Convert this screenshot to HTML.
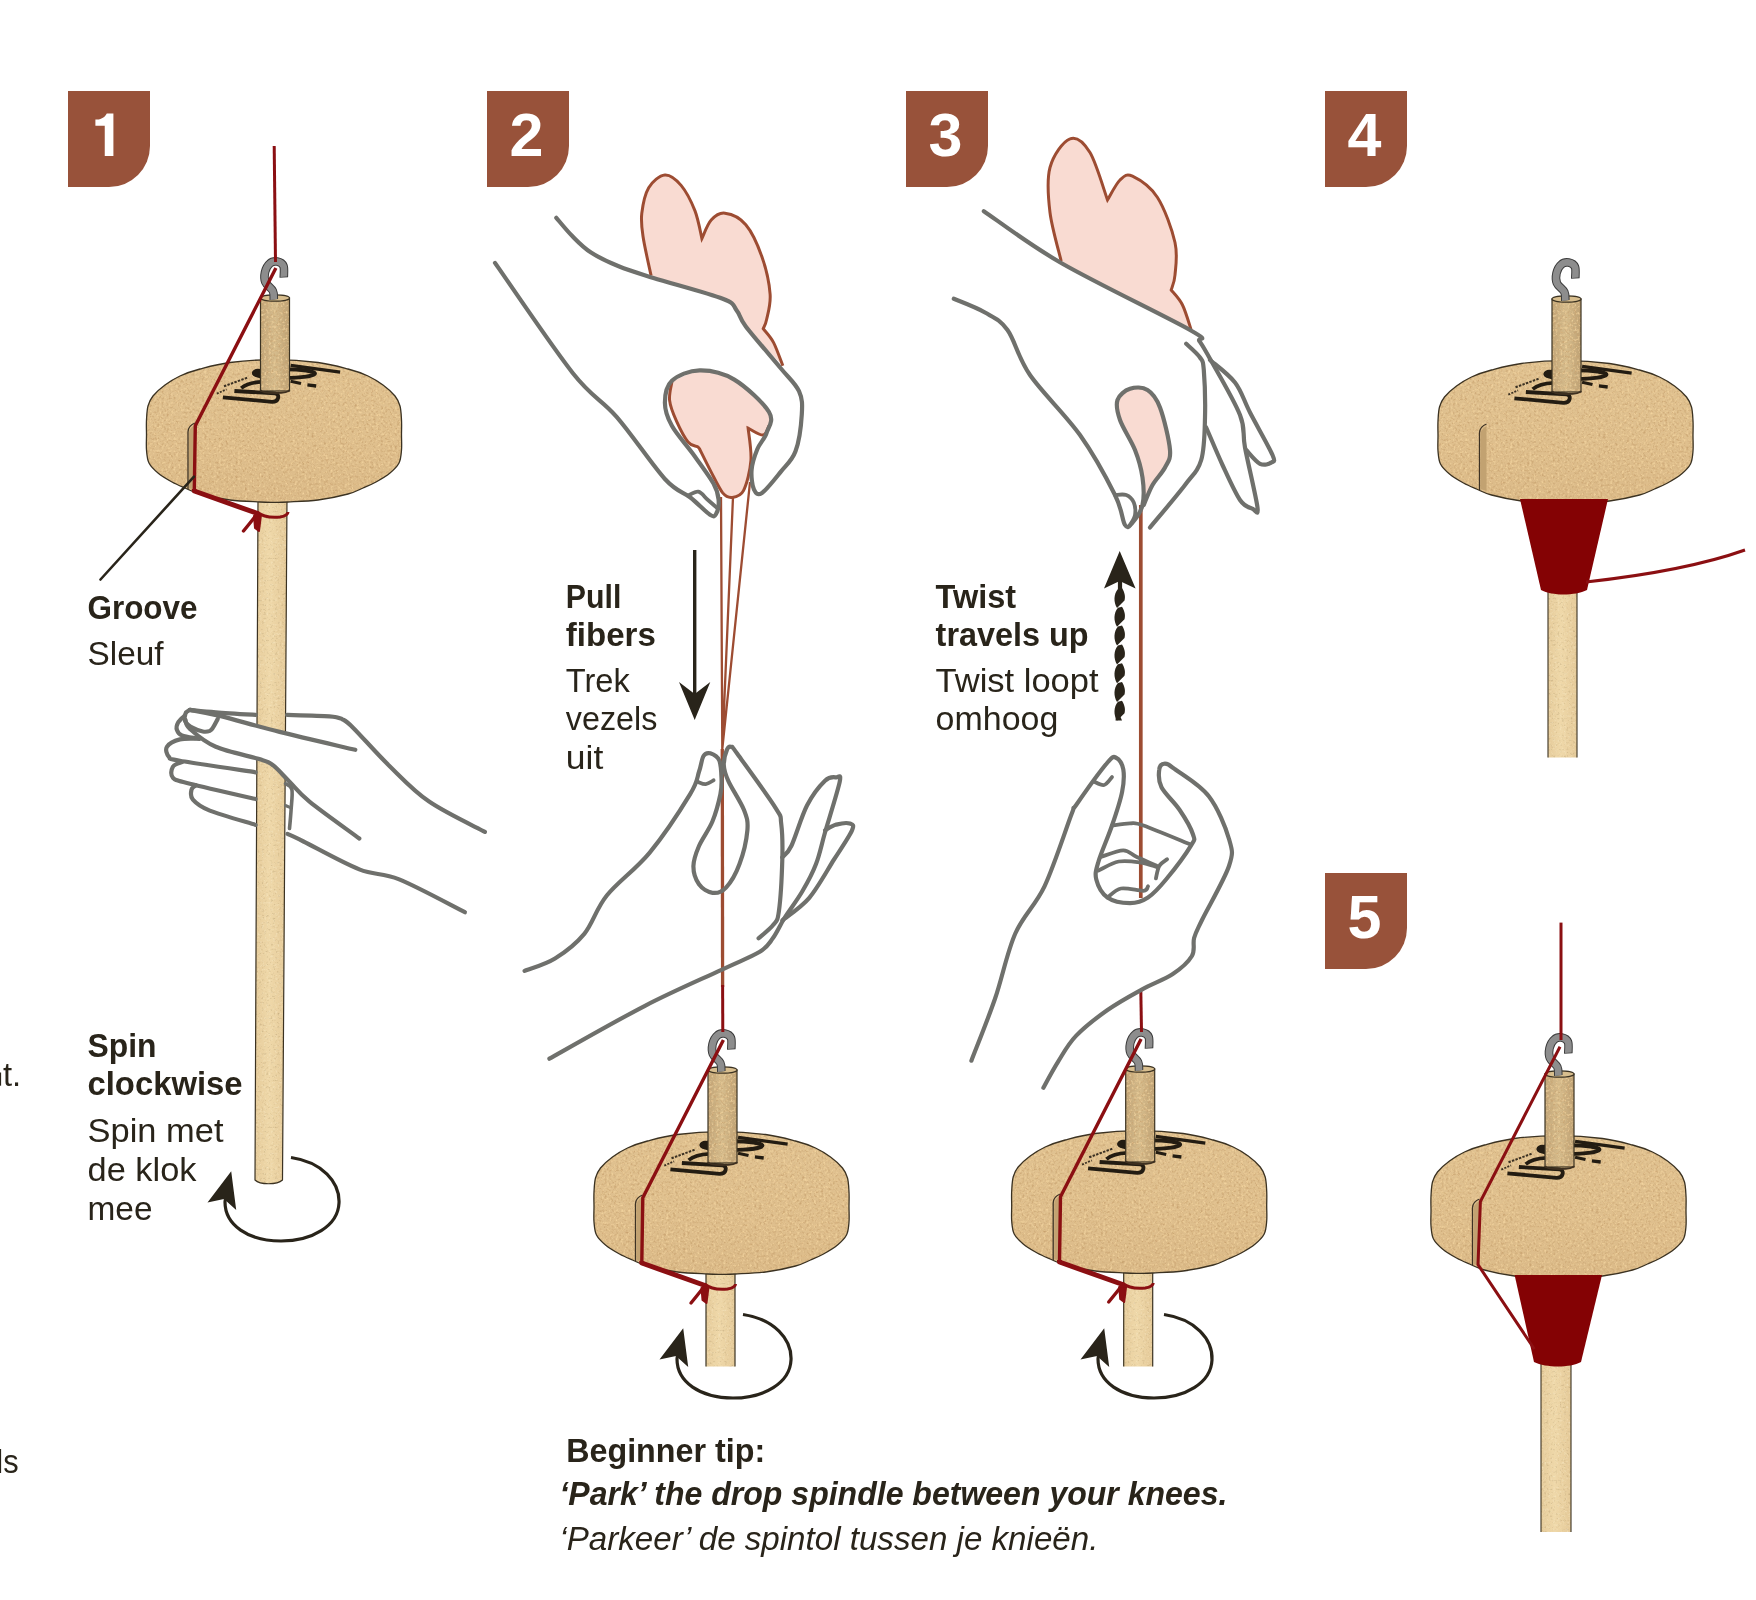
<!DOCTYPE html>
<html><head><meta charset="utf-8"><style>
html,body{margin:0;padding:0;background:#fff;}
svg{display:block;will-change:transform;}
</style></head><body>
<svg width="1756" height="1600" viewBox="0 0 1756 1600">
<rect width="1756" height="1600" fill="#fff"/>

<defs>
 <linearGradient id="gdisc" x1="0" y1="0" x2="0" y2="1">
   <stop offset="0" stop-color="#e0c291"/><stop offset="0.6" stop-color="#dfbf8d"/><stop offset="1" stop-color="#dbba88"/>
 </linearGradient>
 <linearGradient id="gshaft" x1="0" y1="0" x2="1" y2="0">
   <stop offset="0" stop-color="#e6cc9b"/><stop offset="0.45" stop-color="#efd8a9"/><stop offset="1" stop-color="#e5ca99"/>
 </linearGradient>
 <linearGradient id="gtop" x1="0" y1="0" x2="1" y2="0">
   <stop offset="0" stop-color="#c2a679"/><stop offset="0.5" stop-color="#d6bc8c"/><stop offset="1" stop-color="#bea174"/>
 </linearGradient>
 <filter id="cork" x="0" y="0" width="1" height="1" color-interpolation-filters="sRGB">
   <feTurbulence type="fractalNoise" baseFrequency="0.42" numOctaves="2" seed="7" result="n0"/>
   <feGaussianBlur in="n0" stdDeviation="0.45" result="n"/>
   <feColorMatrix in="n" type="matrix" values="0 0 0 0 0.78  0 0 0 0 0.63  0 0 0 0 0.43  2.4 0 0 0 -1.18" result="dark"/>
   <feColorMatrix in="n" type="matrix" values="0 0 0 0 0.96  0 0 0 0 0.84  0 0 0 0 0.63  0 -2.4 0 0 1.18" result="light"/>
   <feComposite in="dark" in2="SourceAlpha" operator="in" result="d2"/>
   <feComposite in="light" in2="SourceAlpha" operator="in" result="l2"/>
   <feMerge><feMergeNode in="SourceGraphic"/><feMergeNode in="d2"/><feMergeNode in="l2"/></feMerge>
 </filter>
 <filter id="cork2" x="0" y="0" width="1" height="1" color-interpolation-filters="sRGB">
   <feTurbulence type="fractalNoise" baseFrequency="0.45" numOctaves="2" seed="11" result="n"/>
   <feColorMatrix in="n" type="matrix" values="0 0 0 0 0.55  0 0 0 0 0.46  0 0 0 0 0.3  0.9 0 0 0 -0.52" result="dark"/>
   <feColorMatrix in="n" type="matrix" values="0 0 0 0 0.98  0 0 0 0 0.93  0 0 0 0 0.8  0 -1.4 0 0 0.66" result="light"/>
   <feComposite in="dark" in2="SourceAlpha" operator="in" result="d2"/>
   <feComposite in="light" in2="SourceAlpha" operator="in" result="l2"/>
   <feMerge><feMergeNode in="SourceGraphic"/><feMergeNode in="d2"/><feMergeNode in="l2"/></feMerge>
 </filter>
 <g id="spin">
   <path d="M274.0,359.7 C259.3,359.7 242.3,360.9 230.0,362.5 C217.7,364.1 208.3,366.8 200.0,369.0 C191.7,371.2 185.8,373.3 180.0,376.0 C174.2,378.7 169.5,381.7 165.0,385.0 C160.5,388.3 155.8,392.5 153.0,396.0 C150.2,399.5 149.1,402.0 148.0,406.0 C146.9,410.0 146.8,415.2 146.5,420.0 C146.2,424.8 146.5,430.0 146.5,435.0 C146.5,440.0 146.1,445.3 146.5,450.0 C146.9,454.7 147.1,459.2 149.0,463.0 C150.9,466.8 154.2,469.8 158.0,473.0 C161.8,476.2 167.5,479.5 172.0,482.0 C176.5,484.5 180.3,486.0 185.0,488.0 C189.7,490.0 192.5,492.0 200.0,494.0 C207.5,496.0 220.0,498.7 230.0,500.0 C240.0,501.3 252.7,501.6 260.0,502.0 C267.3,502.4 269.3,502.3 274.0,502.3 C278.7,502.3 280.7,502.4 288.0,502.0 C295.3,501.6 308.0,501.3 318.0,500.0 C328.0,498.7 340.5,496.0 348.0,494.0 C355.5,492.0 358.3,490.0 363.0,488.0 C367.7,486.0 371.5,484.5 376.0,482.0 C380.5,479.5 386.2,476.2 390.0,473.0 C393.8,469.8 397.1,466.8 399.0,463.0 C400.9,459.2 401.1,454.7 401.5,450.0 C401.9,445.3 401.5,440.0 401.5,435.0 C401.5,430.0 401.8,424.8 401.5,420.0 C401.2,415.2 401.1,410.0 400.0,406.0 C398.9,402.0 397.8,399.5 395.0,396.0 C392.2,392.5 387.5,388.3 383.0,385.0 C378.5,381.7 373.8,378.7 368.0,376.0 C362.2,373.3 356.3,371.2 348.0,369.0 C339.7,366.8 330.3,364.1 318.0,362.5 C305.7,360.9 288.7,359.7 274.0,359.7 Z" fill="url(#gdisc)" filter="url(#cork)"/>
   <path d="M274.0,359.7 C259.3,359.7 242.3,360.9 230.0,362.5 C217.7,364.1 208.3,366.8 200.0,369.0 C191.7,371.2 185.8,373.3 180.0,376.0 C174.2,378.7 169.5,381.7 165.0,385.0 C160.5,388.3 155.8,392.5 153.0,396.0 C150.2,399.5 149.1,402.0 148.0,406.0 C146.9,410.0 146.8,415.2 146.5,420.0 C146.2,424.8 146.5,430.0 146.5,435.0 C146.5,440.0 146.1,445.3 146.5,450.0 C146.9,454.7 147.1,459.2 149.0,463.0 C150.9,466.8 154.2,469.8 158.0,473.0 C161.8,476.2 167.5,479.5 172.0,482.0 C176.5,484.5 180.3,486.0 185.0,488.0 C189.7,490.0 192.5,492.0 200.0,494.0 C207.5,496.0 220.0,498.7 230.0,500.0 C240.0,501.3 252.7,501.6 260.0,502.0 C267.3,502.4 269.3,502.3 274.0,502.3 C278.7,502.3 280.7,502.4 288.0,502.0 C295.3,501.6 308.0,501.3 318.0,500.0 C328.0,498.7 340.5,496.0 348.0,494.0 C355.5,492.0 358.3,490.0 363.0,488.0 C367.7,486.0 371.5,484.5 376.0,482.0 C380.5,479.5 386.2,476.2 390.0,473.0 C393.8,469.8 397.1,466.8 399.0,463.0 C400.9,459.2 401.1,454.7 401.5,450.0 C401.9,445.3 401.5,440.0 401.5,435.0 C401.5,430.0 401.8,424.8 401.5,420.0 C401.2,415.2 401.1,410.0 400.0,406.0 C398.9,402.0 397.8,399.5 395.0,396.0 C392.2,392.5 387.5,388.3 383.0,385.0 C378.5,381.7 373.8,378.7 368.0,376.0 C362.2,373.3 356.3,371.2 348.0,369.0 C339.7,366.8 330.3,364.1 318.0,362.5 C305.7,360.9 288.7,359.7 274.0,359.7 Z" fill="none" stroke="#3b3222" stroke-width="1.3"/>
   <!-- logo -->
   <g fill="none" stroke="#231c12" stroke-linecap="butt">
     <path d="M290.6,365.4 L340.1,372.2" stroke-width="3.3"/>
     <ellipse cx="284.5" cy="373.6" rx="30.5" ry="4.3" stroke-width="3.9"/>
     <ellipse cx="258" cy="372.8" rx="6" ry="4" fill="#231c12" stroke="none"/>
     <path d="M290.6,381.3 L301,383.5" stroke-width="3.2"/>
     <path d="M307.4,384.8 L316.2,386" stroke-width="3.3"/>
     <path d="M234.4,391 L275,393.3 C280,393.8 279.5,401.8 272,401.8 L222.9,397.3" stroke-width="3.8"/>
     <path d="M241.2,388.2 C245,385 252,382.3 262,381.9" stroke-width="3.7"/>
     <path d="M224,386.3 L247.5,377.6" stroke="#3a3022" stroke-width="2" stroke-dasharray="2.4 1.3"/>
     <path d="M216.8,393.6 L226.5,389.4" stroke="#3a3022" stroke-width="1.8" stroke-dasharray="2 1.3"/>
   </g>
   <!-- top shaft -->
   <rect x="260.5" y="298" width="29" height="93" fill="url(#gtop)" filter="url(#cork)"/>
   <rect x="260.5" y="298" width="29" height="93" fill="none" stroke="#3b3222" stroke-width="1.2"/>
   <ellipse cx="275" cy="298" rx="14.5" ry="3.2" fill="#d8be8e" stroke="#3b3222" stroke-width="1.2"/>
   <path d="M260.5,390 C262,394 288,394 289.5,390" fill="none" stroke="#3e3020" stroke-width="2"/>
   <!-- hook -->
   <path d="M273.8,299.5 C273.6,298.1 274.3,293.9 272.9,291.0 C271.5,288.1 266.7,285.4 265.4,282.2 C264.1,279.1 264.3,275.4 265.0,272.2 C265.7,269.1 267.7,265.3 269.8,263.5 C271.8,261.7 275.0,261.2 277.2,261.6 C279.5,262.0 282.4,263.4 283.5,266.0 C284.6,268.6 283.7,275.6 283.8,277.5" fill="none" stroke="#3c3c3c" stroke-width="8.6" stroke-linecap="butt"/>
   <path d="M273.8,299.5 C273.6,298.1 274.3,293.9 272.9,291.0 C271.5,288.1 266.7,285.4 265.4,282.2 C264.1,279.1 264.3,275.4 265.0,272.2 C265.7,269.1 267.7,265.3 269.8,263.5 C271.8,261.7 275.0,261.2 277.2,261.6 C279.5,262.0 282.4,263.5 283.5,266.0 C284.6,268.5 283.7,275.0 283.8,276.8" fill="none" stroke="#8d8d8d" stroke-width="6.6" stroke-linecap="butt"/>
   <!-- groove slot -->
   <path d="M188,489 L188,432 C188,428 190,425 195,423" fill="none" stroke="#3d3224" stroke-width="1.3"/>
   <path d="M189,488 L189,433 C189,430 191,427 195,425 L195,490 Z" fill="#c2a271"/>
 </g>
</defs>

<path d="M68,91 L150,91 L150,146 A41,41 0 0 1 109,187 L68,187 Z" fill="#98523a"/>
<path d="M106.8,113.4 L113.4,113.4 L113.4,156.1 L104.75,156.1 L104.75,125.75 L95.4,125.75 L95.4,119.6 C100,119.6 104.5,118 106.8,113.4 Z" fill="#fff"/>
<path d="M487,91 L569,91 L569,146 A41,41 0 0 1 528,187 L487,187 Z" fill="#98523a"/>
<text x="526.5" y="156.1" text-anchor="middle" font-family="Liberation Sans" font-weight="bold" font-size="61" fill="#fff">2</text>
<path d="M906,91 L988,91 L988,146 A41,41 0 0 1 947,187 L906,187 Z" fill="#98523a"/>
<text x="945.5" y="156.1" text-anchor="middle" font-family="Liberation Sans" font-weight="bold" font-size="61" fill="#fff">3</text>
<path d="M1325,91 L1407,91 L1407,146 A41,41 0 0 1 1366,187 L1325,187 Z" fill="#98523a"/>
<text x="1364.5" y="156.1" text-anchor="middle" font-family="Liberation Sans" font-weight="bold" font-size="61" fill="#fff">4</text>
<path d="M1325,873 L1407,873 L1407,928 A41,41 0 0 1 1366,969 L1325,969 Z" fill="#98523a"/>
<text x="1364.5" y="938.1" text-anchor="middle" font-family="Liberation Sans" font-weight="bold" font-size="61" fill="#fff">5</text>
<path d="M258,498 L287,498 L282.5,1180 C277,1185 260,1185 255,1180 Z" fill="url(#gshaft)" filter="url(#cork2)"/>
<path d="M258,498 L287,498 L282.5,1180 C277,1185 260,1185 255,1180 Z" fill="none" stroke="#3b3222" stroke-width="1.2"/>
<use href="#spin"/>
<g transform="translate(0,0)">
<path d="M275.9,268 L195.3,425.8 L194.3,491" fill="none" stroke="#8b0f12" stroke-width="3.4" stroke-linejoin="round"/>
<path d="M194.3,489 L194.3,491 L257.5,513.5" fill="none" stroke="#8b0f12" stroke-width="5" stroke-linejoin="round"/>
<path d="M257,512 C262,516 270,518 280,517 C286,516 288,514 288,512" fill="none" stroke="#8b0f12" stroke-width="3"/>
<path d="M258,513 L250,523 L243.5,531" fill="none" stroke="#8b0f12" stroke-width="3.4" stroke-linecap="round"/>
<path d="M254,516 L261,515 L259,531 L255,528 Z" fill="#8b0f12" stroke="#8b0f12" stroke-width="2" stroke-linejoin="round"/>
</g>
<path d="M274.2,146 L275.5,262" stroke="#8b0f12" stroke-width="3" fill="none"/>
<path d="M194,476.6 L100.5,579.5" stroke="#29241a" stroke-width="2.6" fill="none" stroke-linecap="round"/>
<g transform="translate(0,0)"><path d="M291,1157.5 C322,1162 340,1182 339,1203 C338,1226 312,1241 281,1241 C248,1241 225,1225 225,1202 C225,1198 226,1195 227,1192" fill="none" stroke="#29241a" stroke-width="3.2"/><path d="M231.2,1171.2 L207.5,1202.5 L224,1199 L236.2,1210 Z" fill="#29241a"/></g>
<g transform="translate(447.5,772)"><path d="M258.5,498 L287.5,498 L287.5,594.5 L258.5,594.5 Z" fill="url(#gshaft)" filter="url(#cork2)"/><path d="M258.5,498 L258.5,594.5 M287.5,498 L287.5,594.5" stroke="#3b3222" stroke-width="1.2"/></g>
<use href="#spin" transform="translate(447.5,772)"/>
<g transform="translate(447.5,772)">
<path d="M275.9,268 L195.3,425.8 L194.3,491" fill="none" stroke="#8b0f12" stroke-width="3.4" stroke-linejoin="round"/>
<path d="M194.3,489 L194.3,491 L257.5,513.5" fill="none" stroke="#8b0f12" stroke-width="5" stroke-linejoin="round"/>
<path d="M257,512 C262,516 270,518 280,517 C286,516 288,514 288,512" fill="none" stroke="#8b0f12" stroke-width="3"/>
<path d="M258,513 L250,523 L243.5,531" fill="none" stroke="#8b0f12" stroke-width="3.4" stroke-linecap="round"/>
<path d="M254,516 L261,515 L259,531 L255,528 Z" fill="#8b0f12" stroke="#8b0f12" stroke-width="2" stroke-linejoin="round"/>
</g>
<g transform="translate(452,157)"><path d="M291,1157.5 C322,1162 340,1182 339,1203 C338,1226 312,1241 281,1241 C248,1241 225,1225 225,1202 C225,1198 226,1195 227,1192" fill="none" stroke="#29241a" stroke-width="3.2"/><path d="M231.2,1171.2 L207.5,1202.5 L224,1199 L236.2,1210 Z" fill="#29241a"/></g>
<g transform="translate(865.2,771)"><path d="M258.5,498 L287.5,498 L287.5,595.5 L258.5,595.5 Z" fill="url(#gshaft)" filter="url(#cork2)"/><path d="M258.5,498 L258.5,595.5 M287.5,498 L287.5,595.5" stroke="#3b3222" stroke-width="1.2"/></g>
<use href="#spin" transform="translate(865.2,771)"/>
<g transform="translate(865.2,771)">
<path d="M275.9,268 L195.3,425.8 L194.3,491" fill="none" stroke="#8b0f12" stroke-width="3.4" stroke-linejoin="round"/>
<path d="M194.3,489 L194.3,491 L257.5,513.5" fill="none" stroke="#8b0f12" stroke-width="5" stroke-linejoin="round"/>
<path d="M257,512 C262,516 270,518 280,517 C286,516 288,514 288,512" fill="none" stroke="#8b0f12" stroke-width="3"/>
<path d="M258,513 L250,523 L243.5,531" fill="none" stroke="#8b0f12" stroke-width="3.4" stroke-linecap="round"/>
<path d="M254,516 L261,515 L259,531 L255,528 Z" fill="#8b0f12" stroke="#8b0f12" stroke-width="2" stroke-linejoin="round"/>
</g>
<g transform="translate(873,157)"><path d="M291,1157.5 C322,1162 340,1182 339,1203 C338,1226 312,1241 281,1241 C248,1241 225,1225 225,1202 C225,1198 226,1195 227,1192" fill="none" stroke="#29241a" stroke-width="3.2"/><path d="M231.2,1171.2 L207.5,1202.5 L224,1199 L236.2,1210 Z" fill="#29241a"/></g>
<path d="M1548,592 L1577,592 L1577,757.5 L1548,757.5 Z" fill="url(#gshaft)" filter="url(#cork2)"/><path d="M1548,592 L1548,757.5 M1577,592 L1577,757.5" stroke="#3b3222" stroke-width="1.1"/>
<use href="#spin" transform="translate(1291.5,1)"/>
<path d="M1520,499 L1608,499 L1587,590 C1575,596 1552,596 1541,590 Z" fill="#840204"/>
<path d="M1586,582 C1640,576 1700,566 1745,550" fill="none" stroke="#8b0f12" stroke-width="3"/>
<path d="M1541,1362 L1571,1362 L1571,1532 L1541,1532 Z" fill="url(#gshaft)" filter="url(#cork2)"/><path d="M1541,1362 L1541,1532 M1571,1362 L1571,1532" stroke="#3b3222" stroke-width="1.1"/>
<use href="#spin" transform="translate(1284.5,776)"/>
<path d="M1514.6,1275 L1602,1275 L1581,1362 C1570,1368 1546,1368 1534,1362 Z" fill="#840204"/>
<path d="M1561,922.6 L1561,1040" fill="none" stroke="#8b0f12" stroke-width="3"/>
<path d="M1560,1046.8 L1480.4,1201.5 L1478,1264.7 L1534.3,1349" fill="none" stroke="#8b0f12" stroke-width="3" stroke-linejoin="round"/>
<path d="M253.6,724.3 C256.6,725.1 265.6,727.4 271.6,729.1 C277.6,730.7 286.5,733.4 289.5,734.2 L289.5,782.1 L273.6,765.7 L261.6,759.8 L253.6,757.8 Z" fill="#fff"/>
<path d="M189.9,709.9 C194.2,710.3 204.8,711.5 215.8,712.3 C226.7,713.2 249.0,714.5 255.6,714.9" fill="none" stroke="#6f706c" stroke-width="4.2" stroke-linecap="round" stroke-linejoin="round"/>
<path d="M287.1,714.9 C294.2,715.1 320.2,715.6 329.4,716.3 C338.6,717.0 338.4,717.4 342.3,719.3 C346.3,721.2 345.5,720.1 353.3,727.9 C361.1,735.6 376.6,753.5 389.2,765.7 C401.8,778.0 413.1,790.6 429.1,801.6 C445.0,812.6 475.6,826.9 484.9,831.9" fill="none" stroke="#6f706c" stroke-width="4.2" stroke-linecap="round" stroke-linejoin="round"/>
<path d="M189.9,709.9 C194.8,710.9 204.8,712.3 219.8,715.9 C234.7,719.6 257.0,726.2 279.6,731.9 C302.1,737.5 342.7,746.8 355.3,749.8" fill="none" stroke="#6f706c" stroke-width="4.2" stroke-linecap="round" stroke-linejoin="round"/>
<path d="M189.9,709.9 C189.1,710.5 186.2,711.5 185.5,713.5 C184.7,715.5 184.3,719.5 185.5,721.9 C186.7,724.3 190.0,726.3 192.9,727.9 C195.7,729.5 200.0,731.0 202.8,731.5 C205.6,732.0 208.0,731.6 209.8,730.9 C211.6,730.1 212.1,728.9 213.4,726.9 C214.7,724.9 217.0,720.2 217.8,718.9" fill="none" stroke="#6f706c" stroke-width="4.2" stroke-linecap="round" stroke-linejoin="round"/>
<path d="M185.5,719.9 C186.2,721.4 184.8,724.4 189.9,728.9 C194.9,733.4 203.8,741.7 215.8,746.8 C227.7,752.0 252.0,756.6 261.6,759.8 C271.3,762.9 268.9,762.1 273.6,765.7 C278.2,769.4 283.5,775.7 289.5,781.7 C295.5,787.7 297.8,792.2 309.5,801.6 C321.1,811.1 351.0,832.3 359.3,838.5" fill="none" stroke="#6f706c" stroke-width="4.2" stroke-linecap="round" stroke-linejoin="round"/>
<path d="M183.9,716.3 C182.9,717.4 179.1,720.6 177.9,722.9 C176.7,725.1 176.2,727.8 176.9,729.9 C177.6,732.0 178.7,734.1 181.9,735.4 C185.0,736.8 193.5,737.8 195.8,738.2" fill="none" stroke="#6f706c" stroke-width="4.2" stroke-linecap="round" stroke-linejoin="round"/>
<path d="M199.8,738.8 C196.5,738.9 185.4,738.1 179.9,739.4 C174.4,740.8 168.8,743.9 166.9,746.8 C165.1,749.7 166.8,754.4 168.9,756.8 C171.1,759.1 165.4,758.2 179.9,760.8 C194.3,763.4 243.0,770.4 255.6,772.3" fill="none" stroke="#6f706c" stroke-width="4.2" stroke-linecap="round" stroke-linejoin="round"/>
<path d="M181.9,762.2 C180.4,762.9 174.4,764.1 172.9,766.7 C171.4,769.3 170.1,774.9 172.9,777.7 C175.7,780.5 176.1,780.1 189.9,783.7 C203.7,787.2 244.7,796.5 255.6,799.0" fill="none" stroke="#6f706c" stroke-width="4.2" stroke-linecap="round" stroke-linejoin="round"/>
<path d="M195.8,785.3 C195.1,786.0 192.0,787.3 191.5,789.7 C191.0,792.1 189.8,796.1 192.9,799.6 C195.9,803.1 199.3,806.4 209.8,810.6 C220.3,814.8 248.0,822.5 255.6,824.9" fill="none" stroke="#6f706c" stroke-width="4.2" stroke-linecap="round" stroke-linejoin="round"/>
<path d="M287.5,833.9 C290.2,835.2 291.5,835.6 303.5,841.5 C315.4,847.4 343.3,863.1 359.3,869.4 C375.2,875.7 381.5,872.2 399.2,879.4 C416.8,886.5 454.0,906.8 464.9,912.2" fill="none" stroke="#6f706c" stroke-width="4.2" stroke-linecap="round" stroke-linejoin="round"/>
<path d="M285.5,783.7 C286.6,784.7 291.0,785.3 291.9,789.7 C292.8,794.0 291.5,803.1 291.1,809.6 C290.7,816.1 289.8,825.4 289.5,828.5" fill="none" stroke="#6f706c" stroke-width="3.6" stroke-linecap="round" stroke-linejoin="round"/>
<path d="M285.5,805.6 C286.4,805.9 289.7,807.3 290.5,807.6" fill="none" stroke="#6f706c" stroke-width="3.2" stroke-linecap="round" stroke-linejoin="round"/>
<path d="M721,497 L722.3,749 M733,497 L722.3,749 M750,482 L722.3,749" stroke="#9d4c32" stroke-width="2.3" fill="none"/>
<path d="M722.3,749 L722.6,987" stroke="#9d4c32" stroke-width="3.3" fill="none"/>
<path d="M722.6,985 L722.8,1032" stroke="#8b0f12" stroke-width="3" fill="none"/>
<path d="M651.1,275.6 C649.7,269.0 644.5,246.7 643.0,236.3 C641.4,225.9 640.8,221.3 641.8,213.2 C642.8,205.1 644.9,194.1 648.7,187.7 C652.6,181.4 659.5,175.4 664.9,175.0 C670.3,174.6 676.1,179.5 681.1,185.4 C686.1,191.4 691.5,202.0 695.0,210.9 C698.4,219.7 700.8,234.0 701.9,238.6 L701.9,238.6 C703.5,235.5 707.3,224.3 711.2,220.1 C715.0,215.9 719.3,212.4 725.0,213.2 C730.8,213.9 739.7,217.4 745.8,224.7 C752.0,232.0 758.0,245.5 762.0,257.1 C766.1,268.6 769.3,283.7 770.1,294.1 C770.9,304.5 767.8,313.7 766.6,319.5 C765.5,325.3 763.7,327.2 763.2,328.7 L763.2,328.7 C764.9,331.1 770.3,336.5 773.6,342.6 C776.8,348.8 781.3,361.9 782.8,365.7 L782.8,365.7 C776.7,359.2 753.5,335.7 745.8,326.4 C738.1,317.2 740.4,314.9 736.6,310.3 C732.7,305.6 736.6,304.1 722.7,298.7 C708.8,293.3 665.3,281.7 653.4,277.9 C641.4,274.0 651.4,276.0 651.1,275.6 Z" fill="#f9dbd2"/>
<path d="M651.1,275.6 C649.7,269.0 644.5,246.7 643.0,236.3 C641.4,225.9 640.8,221.3 641.8,213.2 C642.8,205.1 644.9,194.1 648.7,187.7 C652.6,181.4 659.5,175.4 664.9,175.0 C670.3,174.6 676.1,179.5 681.1,185.4 C686.1,191.4 691.5,202.0 695.0,210.9 C698.4,219.7 700.8,234.0 701.9,238.6 L701.9,238.6 C703.5,235.5 707.3,224.3 711.2,220.1 C715.0,215.9 719.3,212.4 725.0,213.2 C730.8,213.9 739.7,217.4 745.8,224.7 C752.0,232.0 758.0,245.5 762.0,257.1 C766.1,268.6 769.3,283.7 770.1,294.1 C770.9,304.5 767.8,313.7 766.6,319.5 C765.5,325.3 763.7,327.2 763.2,328.7 L763.2,328.7 C764.9,331.1 770.3,336.5 773.6,342.6 C776.8,348.8 781.3,361.9 782.8,365.7" fill="none" stroke="#9d4c32" stroke-width="3" stroke-linejoin="miter"/>
<path d="M671.9,381.9 C676.5,380.2 689.2,371.9 699.6,371.5 C710.0,371.1 722.7,372.9 734.3,379.6 C745.8,386.3 763.4,404.3 769.0,412.0 C774.5,419.7 768.8,422.0 767.8,425.8 C766.8,429.7 763.9,433.5 763.2,435.1 L763.2,435.1 C760.7,433.9 750.7,429.3 748.1,428.1 L748.1,428.1 C748.6,433.5 751.7,450.1 750.9,460.5 C750.1,470.9 746.7,484.4 743.5,490.6 C740.4,496.7 735.4,497.1 732.0,497.5 C728.5,497.9 726.2,497.1 722.7,492.9 C719.3,488.6 715.0,479.4 711.2,472.1 C707.3,464.7 701.5,452.8 699.6,449.0 L699.6,449.0 C699.2,448.6 699.2,447.8 697.3,446.6 C695.4,445.5 691.5,446.3 688.0,442.0 C684.6,437.8 679.6,428.1 676.5,421.2 C673.4,414.3 670.3,407.0 669.6,400.4 C668.8,393.9 671.5,385.0 671.9,381.9 Z" fill="#f9dbd2"/>
<path d="M769.0,425.8 C768.0,427.4 766.6,434.7 763.2,435.1 C759.7,435.5 750.7,429.3 748.1,428.1 L748.1,428.1 C748.6,433.5 751.7,450.1 750.9,460.5 C750.1,470.9 746.7,484.4 743.5,490.6 C740.4,496.7 735.4,497.1 732.0,497.5 C728.5,497.9 726.2,497.1 722.7,492.9 C719.3,488.6 715.0,479.4 711.2,472.1 C707.3,464.7 701.5,452.8 699.6,449.0 L699.6,449.0 C699.2,448.6 699.2,447.8 697.3,446.6 C695.4,445.5 691.5,446.3 688.0,442.0 C684.6,437.8 679.6,428.1 676.5,421.2 C673.4,414.3 670.3,407.0 669.6,400.4 C668.8,393.9 671.5,385.0 671.9,381.9" fill="none" stroke="#9d4c32" stroke-width="3"/>
<path d="M556.3,217.8 C559.0,220.9 566.7,230.5 572.5,236.3 C578.2,242.1 583.3,247.5 591.0,252.5 C598.7,257.5 608.3,262.1 618.7,266.3 C629.1,270.6 636.0,272.5 653.4,277.9 C670.7,283.3 708.8,293.3 722.7,298.7 C736.6,304.1 732.7,305.6 736.6,310.3 C740.4,314.9 738.5,316.8 745.8,326.4 C753.2,336.1 771.6,357.3 780.5,368.0 C789.4,378.8 795.5,383.5 799.0,391.2 C802.5,398.9 802.4,404.3 801.8,414.3 C801.2,424.3 799.1,441.6 795.5,451.3 C792.0,460.9 786.1,465.1 780.5,472.1 C774.9,479.0 766.4,490.0 762.0,492.9 C757.6,495.8 755.7,493.3 753.9,489.4 C752.2,485.6 751.0,476.5 751.6,469.8 C752.2,463.0 754.9,455.1 757.4,449.0 C759.9,442.8 764.7,438.9 766.6,432.8 C768.6,426.6 774.3,420.8 769.0,412.0 C763.6,403.1 745.8,386.5 734.3,379.6 C722.7,372.7 710.0,370.2 699.6,370.4 C689.2,370.5 677.6,375.4 671.9,380.8 C666.1,386.2 664.9,395.2 664.9,402.7 C664.9,410.2 667.2,417.4 671.9,425.8 C676.5,434.3 685.7,443.9 692.7,453.6 C699.6,463.2 709.2,475.9 713.5,483.6 C717.8,491.3 718.1,494.8 718.6,499.8 C719.0,504.8 717.7,511.2 716.2,513.7 C714.8,516.2 714.3,517.5 710.0,514.8 C705.7,512.1 697.9,503.5 690.4,497.5 C682.8,491.5 677.3,492.5 664.9,479.0 C652.6,465.5 631.8,434.3 616.4,416.6 C601.0,398.9 592.7,398.3 572.5,372.7 C552.2,347.0 507.9,281.2 495.0,262.9" fill="none" stroke="#6f706c" stroke-width="4.2" stroke-linecap="round" stroke-linejoin="round"/>
<path d="M688.0,495.6 C689.8,495.0 695.2,491.0 698.4,491.7 C701.7,492.4 704.6,497.1 707.7,499.8 C710.8,502.5 715.4,506.5 716.9,507.9" fill="none" stroke="#6f706c" stroke-width="3.8" stroke-linecap="round" stroke-linejoin="round"/>
<path d="M524.6,970.9 C529.7,968.8 545.1,964.7 555.0,958.5 C564.9,952.3 575.6,944.3 584.3,933.8 C592.9,923.3 595.9,909.0 606.8,895.5 C617.6,882.0 635.6,869.6 649.5,852.8 C663.4,835.9 681.8,807.8 690.0,794.3 C698.3,780.8 696.8,778.1 699.0,771.8 C701.3,765.4 701.6,759.1 703.5,756.0 C705.4,752.9 707.6,752.6 710.3,753.3 C712.9,754.1 717.4,756.3 719.3,760.5 C721.1,764.7 721.3,772.9 721.5,778.5 C721.7,784.1 721.9,787.1 720.4,794.3 C718.9,801.4 716.1,812.6 712.5,821.3 C709.0,829.9 702.2,838.5 699.0,846.0 C695.8,853.5 693.4,859.9 693.4,866.3 C693.4,872.6 695.8,879.8 699.0,884.3 C702.2,888.7 708.0,892.3 712.5,892.8 C717.0,893.4 721.5,892.4 726.0,887.6 C730.5,882.8 736.0,873.6 739.5,864.0 C743.1,854.5 746.6,839.3 747.4,830.3 C748.1,821.3 747.2,818.3 744.0,810.0 C740.8,801.8 731.6,788.3 728.3,780.8 C724.9,773.3 724.0,770.3 723.8,765.0 C723.6,759.8 725.8,752.3 727.1,749.3 C728.5,746.3 730.0,746.3 731.6,747.0 C733.3,747.8 730.0,743.6 737.3,753.8 C744.6,763.9 768.2,796.1 775.5,807.8 C782.8,819.4 780.0,814.9 781.2,823.5 C782.3,832.1 782.7,844.9 782.3,859.5 C781.9,874.1 780.4,900.4 778.9,911.3 C777.4,922.1 776.7,920.3 773.3,924.8 C769.9,929.3 761.1,936.0 758.6,938.3" fill="none" stroke="#6f706c" stroke-width="4.2" stroke-linecap="round" stroke-linejoin="round"/>
<path d="M697.9,781.9 C699.2,782.3 703.1,784.4 705.8,784.1 C708.4,783.9 712.3,780.9 713.6,780.3" fill="none" stroke="#6f706c" stroke-width="3.8" stroke-linecap="round" stroke-linejoin="round"/>
<path d="M782.3,857.3 C783.8,855.4 787.2,854.6 791.3,846.0 C795.4,837.4 801.4,816.4 807.0,805.5 C812.7,794.6 820.2,785.4 825.0,780.8 C829.9,776.1 833.8,777.2 836.3,777.4 C838.7,777.6 841.5,772.7 839.7,781.9 C837.8,791.1 829.0,818.8 825.0,832.5 C821.1,846.2 819.8,854.3 816.0,864.0 C812.3,873.8 807.8,882.0 802.5,891.0 C797.3,900.0 789.5,910.1 784.5,918.0 C779.6,925.9 777.0,932.6 772.8,938.3 C768.7,943.9 768.3,946.5 759.8,951.8 C751.2,957.0 740.6,960.8 721.5,969.8 C702.4,978.8 673.7,991.0 645.0,1005.8 C616.3,1020.6 565.3,1049.8 549.4,1058.7" fill="none" stroke="#6f706c" stroke-width="4.2" stroke-linecap="round" stroke-linejoin="round"/>
<path d="M825.0,830.3 C826.9,829.3 832.2,825.8 836.3,824.6 C840.4,823.5 847.2,822.6 849.8,823.5 C852.4,824.4 854.7,824.3 852.0,830.3 C849.4,836.3 841.2,848.3 834.0,859.5 C826.9,870.8 817.9,887.6 809.3,897.8 C800.7,907.9 786.8,916.5 782.3,920.3" fill="none" stroke="#6f706c" stroke-width="4.2" stroke-linecap="round" stroke-linejoin="round"/>
<path d="M1061.2,261.2 C1059.4,253.1 1051.9,228.1 1050.0,212.5 C1048.1,196.9 1046.7,179.8 1050.0,167.5 C1053.3,155.2 1063.3,141.2 1070.0,138.8 C1076.7,136.2 1083.8,142.3 1090.0,152.5 C1096.2,162.7 1104.6,192.1 1107.5,200.0 L1107.5,200.0 C1109.6,196.7 1115.8,184.0 1120.0,180.0 C1124.2,176.0 1126.2,173.3 1132.5,176.2 C1138.8,179.2 1150.4,186.5 1157.5,197.5 C1164.6,208.5 1172.1,229.6 1175.0,242.5 C1177.9,255.4 1175.6,267.1 1175.0,275.0 C1174.4,282.9 1171.9,287.5 1171.2,290.0 L1171.2,290.0 C1173.1,292.5 1179.2,298.3 1182.5,305.0 C1185.8,311.7 1189.8,325.8 1191.2,330.0 L1062.5,263.75 Z" fill="#f9dbd2"/>
<path d="M1061.2,261.2 C1059.4,253.1 1051.9,228.1 1050.0,212.5 C1048.1,196.9 1046.7,179.8 1050.0,167.5 C1053.3,155.2 1063.3,141.2 1070.0,138.8 C1076.7,136.2 1083.8,142.3 1090.0,152.5 C1096.2,162.7 1104.6,192.1 1107.5,200.0 L1107.5,200.0 C1109.6,196.7 1115.8,184.0 1120.0,180.0 C1124.2,176.0 1126.2,173.3 1132.5,176.2 C1138.8,179.2 1150.4,186.5 1157.5,197.5 C1164.6,208.5 1172.1,229.6 1175.0,242.5 C1177.9,255.4 1175.6,267.1 1175.0,275.0 C1174.4,282.9 1171.9,287.5 1171.2,290.0 L1171.2,290.0 C1173.1,292.5 1179.2,298.3 1182.5,305.0 C1185.8,311.7 1189.8,325.8 1191.2,330.0" fill="none" stroke="#9d4c32" stroke-width="3"/>
<path d="M1143.8,505.0 C1142.1,503.8 1144.0,486.7 1142.5,477.5 C1141.0,468.3 1138.8,459.6 1135.0,450.0 C1131.2,440.4 1122.9,428.3 1120.0,420.0 C1117.1,411.7 1115.8,405.2 1117.5,400.0 C1119.2,394.8 1125.0,390.4 1130.0,388.8 C1135.0,387.1 1142.5,386.9 1147.5,390.0 C1152.5,393.1 1156.2,397.5 1160.0,407.5 C1163.8,417.5 1169.2,440.0 1170.0,450.0 C1170.8,460.0 1167.9,461.7 1165.0,467.5 C1162.1,473.3 1156.0,478.8 1152.5,485.0 C1149.0,491.2 1145.4,506.2 1143.8,505.0 Z" fill="#f9dbd2"/>
<path d="M1140.8,505 L1140.8,898" stroke="#9d4c32" stroke-width="3.7" fill="none"/>
<path d="M1140.8,990 L1141.5,1032" stroke="#8b0f12" stroke-width="3" fill="none"/>
<path d="M983.8,211.2 C996.9,220.0 1028.1,244.0 1062.5,263.8 C1096.9,283.5 1167.2,317.1 1190.0,330.0 C1212.8,342.9 1196.2,336.5 1199.5,341.2 C1202.8,346.0 1203.2,346.5 1210.0,358.8 C1216.8,371.0 1234.2,400.2 1240.0,415.0 C1245.8,429.8 1242.1,432.1 1245.0,447.5 C1247.9,462.9 1256.2,497.3 1257.5,507.5 C1258.8,517.7 1255.4,510.0 1252.5,508.8 C1249.6,507.5 1245.0,507.3 1240.0,500.0 C1235.0,492.7 1228.1,477.1 1222.5,465.0 C1216.9,452.9 1209.0,433.8 1206.2,427.5" fill="none" stroke="#6f706c" stroke-width="4.2" stroke-linecap="round" stroke-linejoin="round"/>
<path d="M1210.0,360.0 C1214.2,363.8 1228.3,373.8 1235.0,382.5 C1241.7,391.2 1243.8,400.4 1250.0,412.5 C1256.2,424.6 1269.0,446.7 1272.5,455.0 C1276.0,463.3 1273.3,461.0 1271.2,462.5 C1269.2,464.0 1264.2,465.8 1260.0,463.8 C1255.8,461.7 1248.5,452.3 1246.2,450.0" fill="none" stroke="#6f706c" stroke-width="4.2" stroke-linecap="round" stroke-linejoin="round"/>
<path d="M1186.2,343.8 C1188.5,346.0 1197.1,353.1 1200.0,357.5 C1202.9,361.9 1202.9,360.0 1203.8,370.0 C1204.6,380.0 1205.4,402.5 1205.0,417.5 C1204.6,432.5 1204.6,448.8 1201.2,460.0 C1197.9,471.2 1193.5,473.8 1185.0,485.0 C1176.5,496.2 1155.8,520.4 1150.0,527.5" fill="none" stroke="#6f706c" stroke-width="4.2" stroke-linecap="round" stroke-linejoin="round"/>
<path d="M953.8,298.8 C959.0,301.0 976.0,307.3 985.0,312.5 C994.0,317.7 1000.0,319.6 1007.5,330.0 C1015.0,340.4 1017.9,357.5 1030.0,375.0 C1042.1,392.5 1065.8,415.0 1080.0,435.0 C1094.2,455.0 1107.5,480.0 1115.0,495.0 C1122.5,510.0 1122.1,520.4 1125.0,525.0 C1127.9,529.6 1129.6,525.8 1132.5,522.5 C1135.4,519.2 1140.8,512.5 1142.5,505.0 C1144.2,497.5 1143.8,486.7 1142.5,477.5 C1141.2,468.3 1138.8,459.6 1135.0,450.0 C1131.2,440.4 1122.9,428.3 1120.0,420.0 C1117.1,411.7 1115.8,405.2 1117.5,400.0 C1119.2,394.8 1125.0,390.4 1130.0,388.8 C1135.0,387.1 1142.5,386.9 1147.5,390.0 C1152.5,393.1 1156.2,397.5 1160.0,407.5 C1163.8,417.5 1169.2,440.0 1170.0,450.0 C1170.8,460.0 1167.9,461.7 1165.0,467.5 C1162.1,473.3 1156.0,478.8 1152.5,485.0 C1149.0,491.2 1145.2,501.7 1143.8,505.0" fill="none" stroke="#6f706c" stroke-width="4.2" stroke-linecap="round" stroke-linejoin="round"/>
<path d="M1115.0,495.0 C1116.9,495.0 1123.1,493.8 1126.2,495.0 C1129.4,496.2 1132.3,499.2 1133.8,502.5 C1135.2,505.8 1135.6,511.2 1135.0,515.0 C1134.4,518.8 1130.8,523.3 1130.0,525.0" fill="none" stroke="#6f706c" stroke-width="3.8" stroke-linecap="round" stroke-linejoin="round"/>
<path d="M971.4,1060.7 C975.3,1050.3 987.7,1020.0 995.0,998.8 C1002.3,977.6 1007.0,952.3 1015.3,933.5 C1023.5,914.8 1035.1,906.1 1044.5,886.3 C1053.9,866.4 1066.3,827.8 1071.5,814.3 C1076.8,800.8 1070.0,813.9 1076.0,805.3 C1082.0,796.6 1100.8,770.4 1107.5,762.5 C1114.3,754.6 1113.9,756.9 1116.5,758.0 C1119.1,759.1 1122.3,763.6 1123.3,769.3 C1124.2,774.9 1124.0,782.4 1122.1,791.8 C1120.3,801.1 1116.0,813.9 1112.0,825.5 C1108.1,837.1 1101.1,852.5 1098.5,861.5 C1095.9,870.5 1094.8,873.5 1096.3,879.5 C1097.8,885.5 1101.9,893.6 1107.5,897.5 C1113.1,901.5 1123.3,903.1 1130.0,903.1 C1136.8,903.1 1142.0,901.5 1148.0,897.5 C1154.0,893.6 1158.9,888.1 1166.0,879.5 C1173.1,870.9 1186.3,853.3 1190.8,845.8 C1195.3,838.3 1194.9,840.5 1193.0,834.5 C1191.1,828.5 1184.8,817.6 1179.5,809.8 C1174.3,801.9 1164.9,794.0 1161.5,787.3 C1158.1,780.5 1158.7,773.2 1159.3,769.3 C1159.8,765.3 1162.3,763.6 1164.9,763.6 C1167.5,763.6 1167.7,763.8 1175.0,769.3 C1182.3,774.7 1199.8,784.6 1208.8,796.3 C1217.8,807.9 1225.7,827.4 1229.0,839.0 C1232.4,850.6 1233.5,852.5 1229.0,866.0 C1224.5,879.5 1207.8,908.0 1202.0,920.0 C1196.2,932.0 1195.8,932.0 1194.1,938.0 C1192.5,944.0 1195.5,950.0 1191.9,956.0 C1188.3,962.0 1181.2,968.4 1172.8,974.0 C1164.3,979.6 1152.1,983.8 1141.3,989.8 C1130.4,995.8 1118.4,1002.3 1107.5,1010.0 C1096.6,1017.7 1084.3,1027.3 1076.0,1035.9 C1067.8,1044.5 1063.4,1053.2 1058.0,1061.8 C1052.6,1070.4 1045.8,1083.3 1043.4,1087.7" fill="none" stroke="#6f706c" stroke-width="4.2" stroke-linecap="round" stroke-linejoin="round"/>
<path d="M1094.0,781.6 C1095.7,782.2 1101.1,785.8 1104.1,785.0 C1107.1,784.3 1110.7,778.4 1112.0,777.1" fill="none" stroke="#6f706c" stroke-width="3.8" stroke-linecap="round" stroke-linejoin="round"/>
<path d="M1112.0,825.5 C1115.0,825.1 1124.8,823.3 1130.0,823.3 C1135.3,823.3 1133.4,821.9 1143.5,825.5 C1153.6,829.1 1182.9,841.4 1190.8,844.6" fill="none" stroke="#6f706c" stroke-width="3.8" stroke-linecap="round" stroke-linejoin="round"/>
<path d="M1100.8,857.0 C1104.5,855.9 1117.3,850.3 1123.3,850.3 C1129.3,850.3 1131.1,854.4 1136.8,857.0 C1142.4,859.6 1153.6,864.5 1157.0,866.0" fill="none" stroke="#6f706c" stroke-width="3.8" stroke-linecap="round" stroke-linejoin="round"/>
<path d="M1098.5,870.5 C1101.9,869.0 1111.6,862.8 1118.8,861.5 C1125.9,860.2 1134.9,861.7 1141.3,862.6 C1147.6,863.6 1154.4,866.4 1157.0,867.1" fill="none" stroke="#6f706c" stroke-width="3.8" stroke-linecap="round" stroke-linejoin="round"/>
<path d="M1167.1,859.3 C1165.8,860.4 1161.1,862.8 1159.3,866.0 C1157.4,869.2 1156.5,876.3 1155.9,878.4" fill="none" stroke="#6f706c" stroke-width="3.8" stroke-linecap="round" stroke-linejoin="round"/>
<path d="M1107.5,897.5 C1109.8,896.0 1115.0,889.6 1121.0,888.5 C1127.0,887.4 1139.0,891.1 1143.5,890.8 C1148.0,890.4 1147.3,887.0 1148.0,886.3" fill="none" stroke="#6f706c" stroke-width="3.8" stroke-linecap="round" stroke-linejoin="round"/>
<path d="M694.7,550 L694.7,700" stroke="#29241a" stroke-width="3.4" fill="none"/>
<path d="M679,682 L694.7,694 L710.3,682 L694.7,720 Z" fill="#29241a"/>
<path d="M1104,588.5 L1119.7,551 L1135.6,588.5 L1119.7,581 Z" fill="#29241a"/>
<path d="M1118,589.0 C1113.5,594.0 1113.5,602.0 1117,608.0 L1124.5,600.5 C1125.5,597.0 1125,593.0 1122,588.0 Z M1118,607.8 C1113.5,612.8 1113.5,620.8 1117,626.8 L1124.5,619.3 C1125.5,615.8 1125,611.8 1122,606.8 Z M1118,626.6 C1113.5,631.6 1113.5,639.6 1117,645.6 L1124.5,638.1 C1125.5,634.6 1125,630.6 1122,625.6 Z M1118,645.4 C1113.5,650.4 1113.5,658.4 1117,664.4 L1124.5,656.9 C1125.5,653.4 1125,649.4 1122,644.4 Z M1118,664.2 C1113.5,669.2 1113.5,677.2 1117,683.2 L1124.5,675.7 C1125.5,672.2 1125,668.2 1122,663.2 Z M1118,683.0 C1113.5,688.0 1113.5,696.0 1117,702.0 L1124.5,694.5 C1125.5,691.0 1125,687.0 1122,682.0 Z M1118,701.8 C1113.5,706.8 1113.5,714.8 1117,720.8 L1124.5,713.3 C1125.5,709.8 1125,705.8 1122,700.8 Z " fill="#29241a"/>
<path d="M1117.9,581 L1122.1,581 L1122.1,591 L1117.9,591 Z" fill="#29241a"/>
<path d="M1115.5,720.6 L1117,709 L1122,720.6 Z" fill="#29241a"/>
<text x="87.5" y="618.8" font-family="Liberation Sans" font-size="33" font-weight="bold" font-style="normal" fill="#29241a" textLength="110" lengthAdjust="spacingAndGlyphs">Groove</text>
<text x="87.5" y="665" font-family="Liberation Sans" font-size="33" font-weight="normal" font-style="normal" fill="#29241a" textLength="76" lengthAdjust="spacingAndGlyphs">Sleuf</text>
<text x="87.5" y="1057" font-family="Liberation Sans" font-size="33" font-weight="bold" font-style="normal" fill="#29241a" textLength="69" lengthAdjust="spacingAndGlyphs">Spin</text>
<text x="87.5" y="1095" font-family="Liberation Sans" font-size="33" font-weight="bold" font-style="normal" fill="#29241a" textLength="155" lengthAdjust="spacingAndGlyphs">clockwise</text>
<text x="87.5" y="1142" font-family="Liberation Sans" font-size="33" font-weight="normal" font-style="normal" fill="#29241a" textLength="136" lengthAdjust="spacingAndGlyphs">Spin met</text>
<text x="87.5" y="1180.5" font-family="Liberation Sans" font-size="33" font-weight="normal" font-style="normal" fill="#29241a" textLength="109" lengthAdjust="spacingAndGlyphs">de klok</text>
<text x="87.5" y="1220" font-family="Liberation Sans" font-size="33" font-weight="normal" font-style="normal" fill="#29241a" textLength="65" lengthAdjust="spacingAndGlyphs">mee</text>
<text x="565.8" y="608" font-family="Liberation Sans" font-size="33" font-weight="bold" font-style="normal" fill="#29241a" textLength="55.5" lengthAdjust="spacingAndGlyphs">Pull</text>
<text x="565.8" y="645.5" font-family="Liberation Sans" font-size="33" font-weight="bold" font-style="normal" fill="#29241a" textLength="90" lengthAdjust="spacingAndGlyphs">fibers</text>
<text x="565.8" y="692.3" font-family="Liberation Sans" font-size="33" font-weight="normal" font-style="normal" fill="#29241a" textLength="64" lengthAdjust="spacingAndGlyphs">Trek</text>
<text x="565.8" y="730.3" font-family="Liberation Sans" font-size="33" font-weight="normal" font-style="normal" fill="#29241a" textLength="91.5" lengthAdjust="spacingAndGlyphs">vezels</text>
<text x="565.8" y="769" font-family="Liberation Sans" font-size="33" font-weight="normal" font-style="normal" fill="#29241a" textLength="37.5" lengthAdjust="spacingAndGlyphs">uit</text>
<text x="935.6" y="608" font-family="Liberation Sans" font-size="33" font-weight="bold" font-style="normal" fill="#29241a" textLength="80.5" lengthAdjust="spacingAndGlyphs">Twist</text>
<text x="935.6" y="645.5" font-family="Liberation Sans" font-size="33" font-weight="bold" font-style="normal" fill="#29241a" textLength="153" lengthAdjust="spacingAndGlyphs">travels up</text>
<text x="935.6" y="692.3" font-family="Liberation Sans" font-size="33" font-weight="normal" font-style="normal" fill="#29241a" textLength="163" lengthAdjust="spacingAndGlyphs">Twist loopt</text>
<text x="935.6" y="730.3" font-family="Liberation Sans" font-size="33" font-weight="normal" font-style="normal" fill="#29241a" textLength="122.7" lengthAdjust="spacingAndGlyphs">omhoog</text>
<text x="566.2" y="1462" font-family="Liberation Sans" font-size="33" font-weight="bold" font-style="normal" fill="#29241a" textLength="199" lengthAdjust="spacingAndGlyphs">Beginner tip:</text>
<text x="559.4" y="1504.7" font-family="Liberation Sans" font-size="33" font-weight="bold" font-style="italic" fill="#29241a" textLength="668" lengthAdjust="spacingAndGlyphs">‘Park’ the drop spindle between your knees.</text>
<text x="559.4" y="1550.3" font-family="Liberation Sans" font-size="33" font-weight="normal" font-style="italic" fill="#29241a" textLength="539" lengthAdjust="spacingAndGlyphs">‘Parkeer’ de spintol tussen je knieën.</text>
<text x="3" y="1085.7" font-family="Liberation Sans" font-size="33" font-weight="normal" font-style="normal" fill="#29241a" textLength="18.2" lengthAdjust="spacingAndGlyphs">t.</text>
<rect x="0" y="1072.5" width="1.1" height="13.2" fill="#29241a"/>
<rect x="0" y="1449" width="1.1" height="24" fill="#29241a"/>
<text x="3.3" y="1473" font-family="Liberation Sans" font-size="33" font-weight="normal" font-style="normal" fill="#29241a" textLength="15.4" lengthAdjust="spacingAndGlyphs">s</text>
</svg>
</body></html>
